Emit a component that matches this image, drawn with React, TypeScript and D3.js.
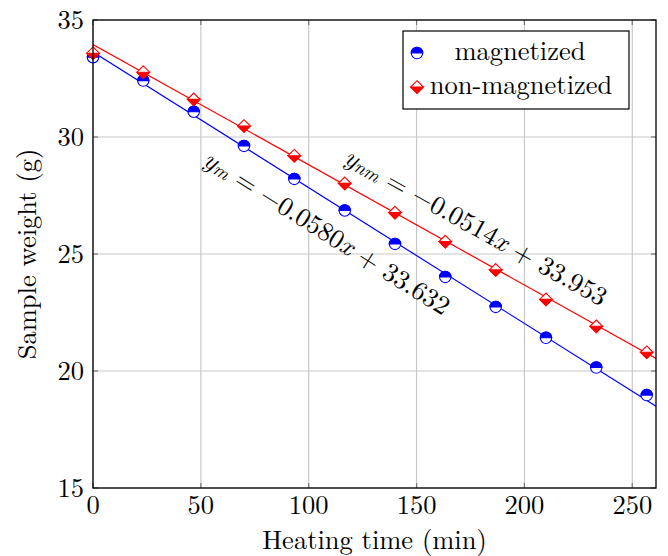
import React from "react";
import * as d3 from "d3";

const heatingTime = [0, 23.3, 46.7, 70, 93.3, 116.7, 140, 163.3, 186.7, 210, 233.3, 256.7];
const magnetized = [33.41, 32.41, 31.08, 29.62, 28.21, 26.86, 25.43, 24.02, 22.74, 21.42, 20.15, 18.97];
const nonMagnetized = [33.58, 32.77, 31.61, 30.47, 29.2, 28.02, 26.77, 25.53, 24.32, 23.06, 21.91, 20.8];
const xTicks = [0, 50, 100, 150, 200, 250];
const yTicks = [15, 20, 25, 30, 35];
const fitM = { slope: -0.058, intercept: 33.632 };
const fitNM = { slope: -0.0514, intercept: 33.953 };
const legendLabels = ["magnetized", "non-magnetized"];

const W = 668;
const H = 556;
const left = 93;
const right = 656;
const top = 20;
const bottom = 488;
const XMAX = 261;

const FONT = '"Latin Modern Roman", serif';
const FS = 26.5;
const BLUE = "#0000ff";
const RED = "#ff0000";

function CircleMark({ x, y, r = 5.7 }: { x: number; y: number; r?: number }) {
  return (
    <g transform={`translate(${x},${y})`}>
      <circle r={r} fill="white" stroke={BLUE} strokeWidth={1.1} />
      <path d={`M${-r},0 A${r},${r} 0 0 1 ${r},0 Z`} fill={BLUE} stroke={BLUE} strokeWidth={1.1} />
    </g>
  );
}

function DiamondMark({ x, y, s = 6.3 }: { x: number; y: number; s?: number }) {
  return (
    <g transform={`translate(${x},${y})`}>
      <path d={`M0,${-s} L${s},0 L0,${s} L${-s},0 Z`} fill="white" stroke={RED} strokeWidth={1.1} />
      <path d={`M${-s},0 L${s},0 L0,${s} Z`} fill={RED} stroke={RED} strokeWidth={1.1} />
    </g>
  );
}

export default function App() {
  const x = d3.scaleLinear().domain([0, XMAX]).range([left, right]);
  const y = d3.scaleLinear().domain([15, 35]).range([bottom, top]);

  const lineGen = d3
    .line<number[]>()
    .x((d) => x(d[0]))
    .y((d) => y(d[1]));

  const fitPts = (f: { slope: number; intercept: number }) =>
    [0, XMAX].map((t) => [t, f.intercept + f.slope * t]);

  const angle = (f: { slope: number }) => {
    const dx = x(100) - x(0);
    const dy = y(f.slope * 100) - y(0);
    return (Math.atan2(dy, dx) * 180) / Math.PI;
  };

  const blueAng = angle(fitM);
  const redAng = angle(fitNM);

  const blueC = [x(109), y(26.0)];
  const redC = [x(178), y(26.25)];

  const txt = { fontFamily: FONT };

  return (
    <svg width={W} height={H} style={{ position: "absolute", left: 0, top: 0 }}>
      <rect x={0} y={0} width={W} height={H} fill="white" />
      <defs>
        <clipPath id="plotclip">
          <rect x={left} y={top} width={right - left} height={bottom - top} />
        </clipPath>
      </defs>
      {xTicks.map((t) => (
        <line key={"gx" + t} x1={x(t)} x2={x(t)} y1={top} y2={bottom} stroke="#c8c8c8" strokeWidth={1.2} />
      ))}
      {yTicks.map((t) => (
        <line key={"gy" + t} x1={left} x2={right} y1={y(t)} y2={y(t)} stroke="#c8c8c8" strokeWidth={1.2} />
      ))}
      {xTicks.map((t) => (
        <g key={"tx" + t}>
          <line x1={x(t)} x2={x(t)} y1={bottom} y2={bottom - 5} stroke="#777" strokeWidth={1.2} />
          <line x1={x(t)} x2={x(t)} y1={top} y2={top + 5} stroke="#777" strokeWidth={1.2} />
        </g>
      ))}
      {yTicks.map((t) => (
        <g key={"ty" + t}>
          <line x1={left} x2={left + 5} y1={y(t)} y2={y(t)} stroke="#777" strokeWidth={1.2} />
          <line x1={right} x2={right - 5} y1={y(t)} y2={y(t)} stroke="#777" strokeWidth={1.2} />
        </g>
      ))}
      <g clipPath="url(#plotclip)">
        <path d={lineGen(fitPts(fitM)) || ""} fill="none" stroke={BLUE} strokeWidth={1.2} />
        <path d={lineGen(fitPts(fitNM)) || ""} fill="none" stroke={RED} strokeWidth={1.2} />
      </g>
      {heatingTime.map((t, i) => (
        <CircleMark key={"m" + i} x={x(t)} y={y(magnetized[i])} />
      ))}
      {heatingTime.map((t, i) => (
        <DiamondMark key={"n" + i} x={x(t)} y={y(nonMagnetized[i])} />
      ))}
      <rect x={left} y={top} width={right - left} height={bottom - top} fill="none" stroke="#000" strokeWidth={1.3} />
      {xTicks.map((t) => (
        <text key={"lx" + t} style={txt} x={x(t)} y={514} textAnchor="middle" fontSize={FS}>
          {t}
        </text>
      ))}
      {yTicks.map((t) => (
        <text key={"ly" + t} style={txt} x={84} y={y(t) + 8.5} textAnchor="end" fontSize={FS}>
          {t}
        </text>
      ))}
      <text style={txt} x={(left + right) / 2} y={549} textAnchor="middle" fontSize={FS}>
        Heating time (min)
      </text>
      <text style={txt} transform={`translate(36,${(top + bottom) / 2}) rotate(-90)`} textAnchor="middle" fontSize={FS}>
        Sample weight (g)
      </text>
      <text
        style={txt}
        transform={`translate(${blueC[0]},${blueC[1]}) rotate(${blueAng})`}
        textAnchor="middle"
        dominantBaseline="central"
        fontSize={FS}
      >
        <tspan fontStyle="italic">y</tspan>
        <tspan fontStyle="italic" fontSize={19} dy={5}>m</tspan>
        <tspan dy={-5}>{"  =  −0.0580"}</tspan>
        <tspan fontStyle="italic">x</tspan>
        <tspan>{" + 33.632"}</tspan>
      </text>
      <text
        style={txt}
        transform={`translate(${redC[0]},${redC[1]}) rotate(${redAng})`}
        textAnchor="middle"
        dominantBaseline="central"
        fontSize={FS}
      >
        <tspan fontStyle="italic">y</tspan>
        <tspan fontStyle="italic" fontSize={19} dy={5}>nm</tspan>
        <tspan dy={-5}>{"  =  −0.0514"}</tspan>
        <tspan fontStyle="italic">x</tspan>
        <tspan>{" + 33.953"}</tspan>
      </text>
      <rect x={403} y={31} width={226} height={78} fill="white" stroke="#000" strokeWidth={1.2} />
      <CircleMark x={417} y={53} />
      <DiamondMark x={417} y={87} />
      <text style={txt} x={520} y={60} textAnchor="middle" fontSize={FS}>
        {legendLabels[0]}
      </text>
      <text style={txt} x={521} y={94} textAnchor="middle" fontSize={FS}>
        {legendLabels[1]}
      </text>
    </svg>
  );
}
